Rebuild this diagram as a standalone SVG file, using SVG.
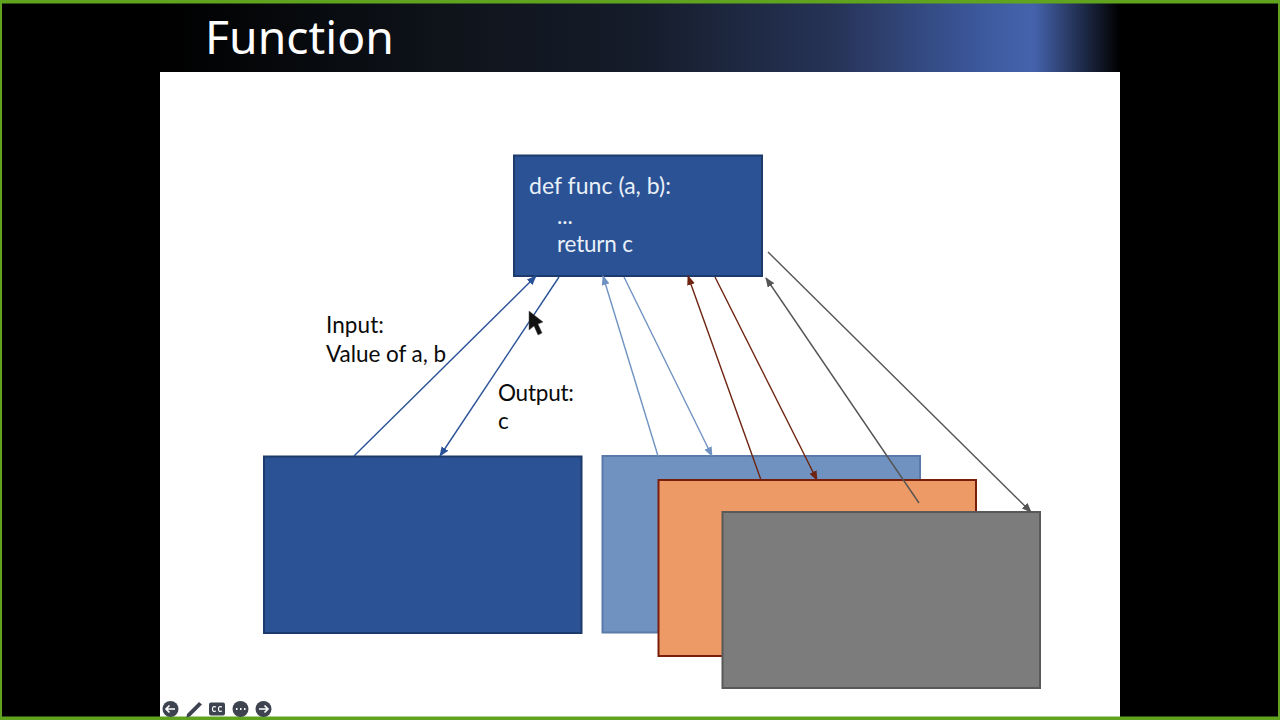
<svg xmlns="http://www.w3.org/2000/svg" width="1280" height="720" viewBox="0 0 1280 720">
<style>
.t{font-family:"Lato","Open Sans",sans-serif;font-size:22.500px}
.w{fill:#e9f0f8}
.k{fill:#0a0a0a}
.c{fill:none;stroke-width:1.400}
.ctl{fill:#3d4450}
</style>
<defs>
<linearGradient id="bar" x1="160" x2="1120" y1="0" y2="0" gradientUnits="userSpaceOnUse">
<stop offset="0" stop-color="#000"/>
<stop offset="0.3" stop-color="#0f141b"/>
<stop offset="0.5" stop-color="#151c2a"/>
<stop offset="0.7" stop-color="#263356"/>
<stop offset="0.86" stop-color="#3d5a9f"/>
<stop offset="0.91" stop-color="#4563ad"/>
<stop offset="0.95" stop-color="#27375f"/>
<stop offset="1" stop-color="#000"/>
</linearGradient>
<marker id="mb" markerWidth="10" markerHeight="8" refX="9" refY="4" orient="auto" markerUnits="userSpaceOnUse"><path d="M0 0L10 4L0 8Z" fill="#2a5298"/></marker>
<marker id="ml" markerWidth="10" markerHeight="8" refX="9" refY="4" orient="auto" markerUnits="userSpaceOnUse"><path d="M0 0L10 4L0 8Z" fill="#7092c1"/></marker>
<marker id="mo" markerWidth="10" markerHeight="8" refX="9" refY="4" orient="auto" markerUnits="userSpaceOnUse"><path d="M0 0L10 4L0 8Z" fill="#6e2410"/></marker>
<marker id="mg" markerWidth="10" markerHeight="8" refX="9" refY="4" orient="auto" markerUnits="userSpaceOnUse"><path d="M0 0L10 4L0 8Z" fill="#555"/></marker>
</defs>
<rect width="1280" height="720" fill="#000"/>
<rect x="160" y="72" width="960" height="645" fill="#fff"/>
<rect x="160" y="3" width="960" height="69" fill="url(#bar)"/>
<rect x="0" y="0" width="1280" height="3.500" fill="#5fa31f"/>
<rect x="0" y="716.500" width="1280" height="3.500" fill="#5fa31f"/>
<rect x="0" y="0" width="2" height="720" fill="#5fa31f"/>
<rect x="1278" y="0" width="2" height="720" fill="#5fa31f"/>
<text x="205" y="54" font-family="'Noto Sans','Open Sans',sans-serif" font-size="46.300" fill="#fff">Function</text>
<g id="node-func">
<rect x="514" y="155.500" width="248" height="120.500" fill="#2a5295" stroke="#1c3a6b" stroke-width="2"/>
<text class="t w" x="529" y="194" style="font-size:23px" textLength="142">def func (a, b):</text>
<text class="t w" x="557" y="224">...</text>
<text class="t w" x="557" y="252" textLength="76">return c</text>
</g>
<g id="node-blue">
<rect x="264" y="456.500" width="317.500" height="176.500" fill="#2a5295" stroke="#1c3a6b" stroke-width="2"/>
</g>
<g id="node-light">
<rect x="602.500" y="456" width="317.500" height="176.500" fill="#7092c1" stroke="#5a7ba8" stroke-width="2"/>
</g>
<g id="node-orange">
<rect x="658.500" y="480" width="317.500" height="176" fill="#ee9a66" stroke="#7a1e0c" stroke-width="2"/>
</g>
<g id="node-gray">
<rect x="722.500" y="512" width="317.500" height="176" fill="#7c7c7c" stroke="#595959" stroke-width="2"/>
</g>
<g id="connectors">
<path class="c" d="M354 456L536 276" stroke="#2a5298" marker-end="url(#mb)"/>
<path class="c" d="M559 277L440 456" stroke="#2a5298" marker-end="url(#mb)"/>
<path class="c" d="M658 456L603 276" stroke="#7092c1" marker-end="url(#ml)"/>
<path class="c" d="M624 277L712 456" stroke="#7092c1" marker-end="url(#ml)"/>
<path class="c" d="M761 480L688 276" stroke="#6e2410" marker-end="url(#mo)"/>
<path class="c" d="M715 277L817 480" stroke="#6e2410" marker-end="url(#mo)"/>
<path class="c" d="M919 503L766 278" stroke="#555" marker-end="url(#mg)"/>
<path class="c" d="M768 252L1031 512" stroke="#555" marker-end="url(#mg)"/>
</g>
<text class="t k" x="326" y="333" textLength="58">Input:</text>
<text class="t k" x="326" y="362" textLength="120">Value of a, b</text>
<text class="t k" x="498" y="401" textLength="76">Output:</text>
<text class="t k" x="498" y="429">c</text>
<path d="M529 311L529 330L534 326L538 335L542 333L538 324L543 322Z" fill="#111" stroke="#555" stroke-width="0.500"/>
<g id="controls">
<circle cx="170.500" cy="709" r="8" class="ctl"/>
<path d="M175 709H166M169.500 705.500L166 709L169.500 712.500" fill="none" stroke="#fff" stroke-width="1.600"/>
<path d="M187 714L199 702L202 704.500L190 716.500L186.500 717.500Z" fill="#3d4450"/>
<rect x="209" y="702.500" width="16" height="13" rx="2" class="ctl"/>
<path d="M216 707Q212.500 705.500 212.500 709Q212.500 712.500 216 711M222 707Q218.500 705.500 218.500 709Q218.500 712.500 222 711" fill="none" stroke="#fff" stroke-width="1.200"/>
<circle cx="240.500" cy="709" r="8" class="ctl"/>
<path d="M236 709h1.500M240 709h1.500M244 709h1.500" stroke="#fff" stroke-width="2"/>
<circle cx="263.500" cy="709" r="8" class="ctl"/>
<path d="M259 709H268M264.500 705.500L268 709L264.500 712.500" fill="none" stroke="#fff" stroke-width="1.600"/>
</g>
</svg>
